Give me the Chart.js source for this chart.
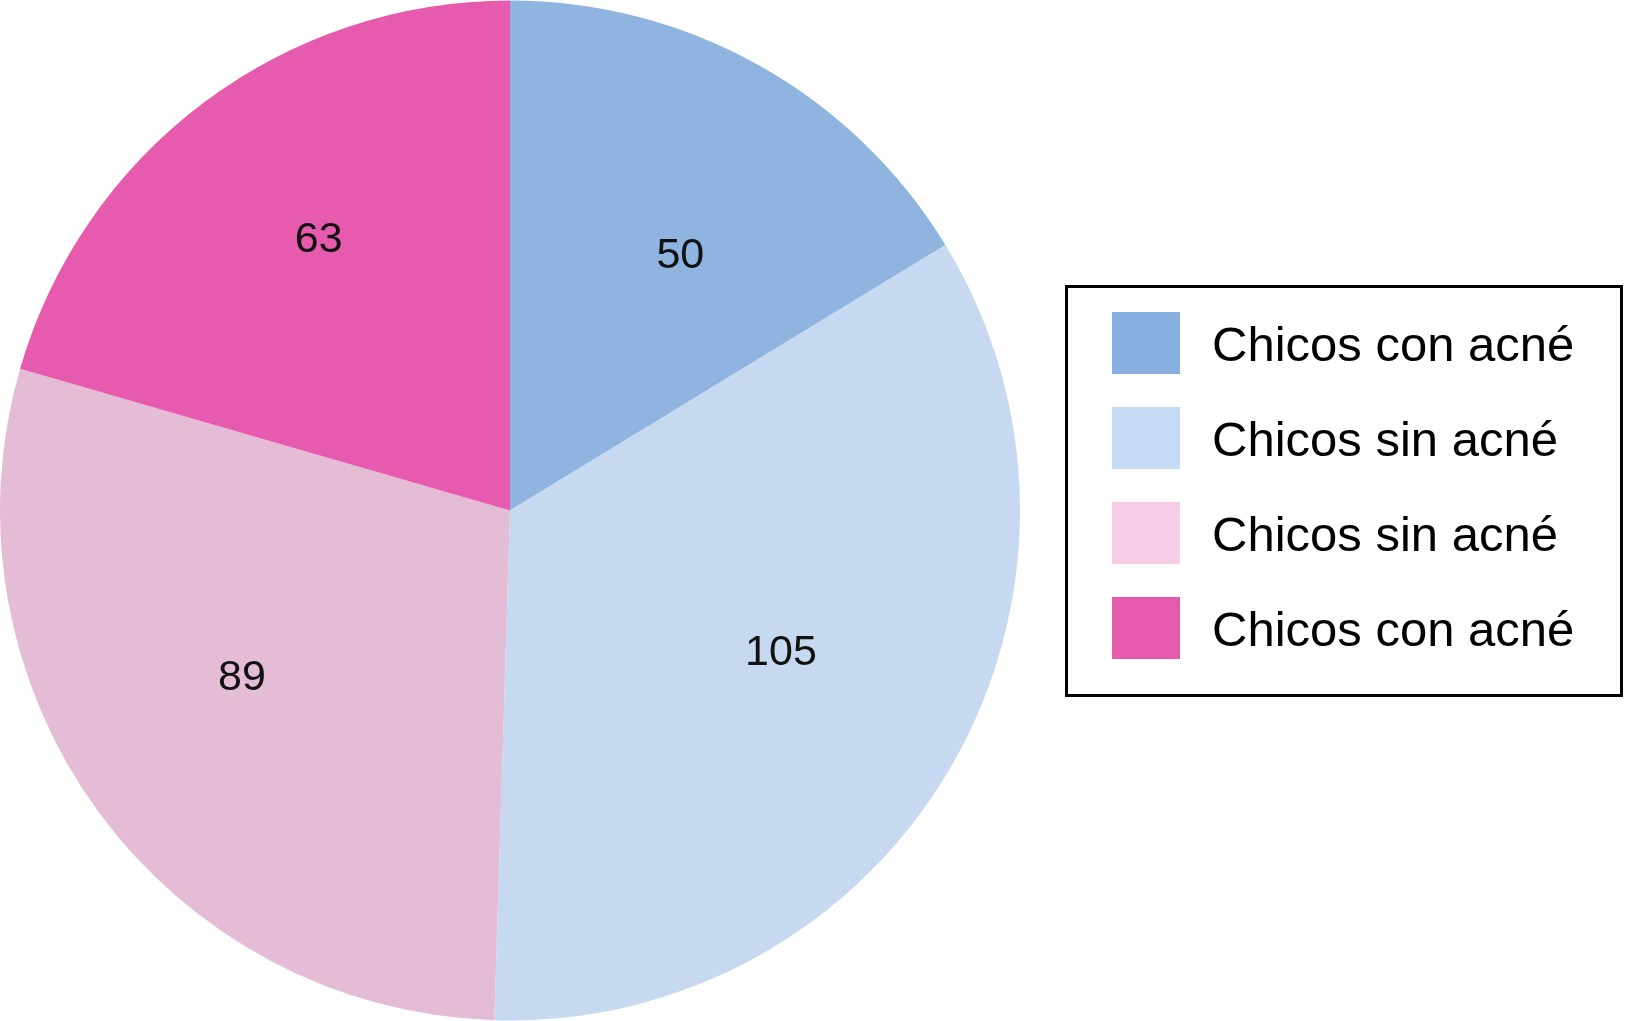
<!DOCTYPE html>
<html>
<head>
<meta charset="utf-8">
<script src="https://cdn.jsdelivr.net/npm/chart.js@4"></script>
<style>
  html, body { margin: 0; padding: 0; background: #fff; }
  #wrap { width: 1626px; height: 1021px; position: relative; }
</style>
</head>
<body>
<div id="wrap"><canvas id="pieChart"></canvas></div>
<script>
// datos
const labels = ["Chicos con acné", "Chicos sin acné", "Chicos sin acné", "Chicos con acné"];
const values = [50, 105, 89, 63];
const sliceColors = ["#8fb4e0", "#c6d9f0", "#e4bcd5", "#e65bad"];
const legendColors = ["#87b0e0", "#c5dbf5", "#f6cce7", "#e55aad"];

// colocación de los números (desplazamiento angular en grados, fracción del radio)
const labelShift = [4.5, -2.5, 4, 1.7];
const labelRadius = [0.6, 0.6, 0.62, 0.65];

const FONT = '"Liberation Sans", Arial, Helvetica, sans-serif';

// números dentro de cada porción
const sliceLabels = {
    id: "sliceLabels",
    afterDatasetsDraw(chart) {
        const ctx = chart.ctx;
        const arcs = chart.getDatasetMeta(0).data;
        ctx.save();
        ctx.font = "43px " + FONT;
        ctx.fillStyle = "#111";
        ctx.textAlign = "center";
        ctx.textBaseline = "middle";
        arcs.forEach((arc, i) => {
            const mid = (arc.startAngle + arc.endAngle) / 2 + labelShift[i] * Math.PI / 180;
            const r = arc.outerRadius * labelRadius[i];
            ctx.fillText(String(values[i]), arc.x + Math.cos(mid) * r, arc.y + Math.sin(mid) * r);
        });
        ctx.restore();
    }
};

// leyenda con marco a la derecha
const boxLegend = {
    id: "boxLegend",
    afterDraw(chart) {
        const ctx = chart.ctx;
        ctx.save();
        ctx.lineWidth = 3;
        ctx.strokeStyle = "#000";
        ctx.strokeRect(1066.5, 286.5, 555, 409);
        ctx.font = "49px " + FONT;
        ctx.textAlign = "left";
        ctx.textBaseline = "alphabetic";
        labels.forEach((label, i) => {
            const top = 312 + i * 95;
            ctx.fillStyle = legendColors[i];
            ctx.fillRect(1112, top, 68, 62);
            ctx.fillStyle = "#000";
            ctx.fillText(label, 1212, top + 31 + 18);
        });
        ctx.restore();
    }
};

const ctx = document.getElementById("pieChart").getContext("2d");
new Chart(ctx, {
    type: "pie",
    data: {
        labels: labels,
        datasets: [{
            data: values,
            backgroundColor: sliceColors,
            borderWidth: 0
        }]
    },
    options: {
        responsive: true,
        maintainAspectRatio: false,
        animation: false,
        layout: { padding: { left: 0, top: 0, right: 606, bottom: 0 } },
        plugins: {
            legend: { display: false },
            tooltip: { enabled: false }
        }
    },
    plugins: [sliceLabels, boxLegend]
});
</script>
</body>
</html>
